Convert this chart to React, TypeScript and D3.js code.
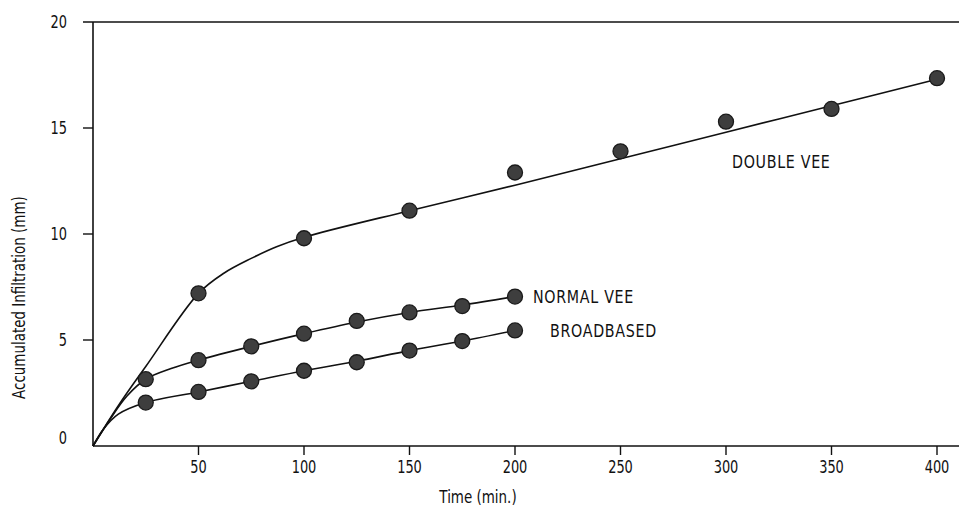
import React, { useEffect, useRef } from 'react';
import * as d3 from 'd3';

// measured points
const shortTimes = [25, 50, 75, 100, 125, 150, 175, 200];
const doubleVeeTimes = [50, 100, 150, 200, 250, 300, 350, 400];
const doubleVeeValues = [7.2, 9.8, 11.1, 12.9, 13.9, 15.3, 15.9, 17.35];
const normalVeeValues = [3.15, 4.05, 4.7, 5.3, 5.9, 6.3, 6.6, 7.05];
const broadbasedValues = [2.05, 2.55, 3.05, 3.55, 3.95, 4.5, 4.95, 5.45];

// hand fitted curves (knots)
const doubleVeeFitTimes = [0, 12, 25, 50, 62, 75, 87, 100, 150, 200, 250, 300, 350, 400];
const doubleVeeFitValues = [0, 1.9, 3.75, 7.2, 8.15, 8.85, 9.4, 9.85, 11.1, 12.3, 13.55, 14.8, 16.05, 17.3];
const normalVeeFitTimes = [0, 8, 16, 25, 37, 50, 75, 100, 125, 150, 175, 200];
const normalVeeFitValues = [0, 1.25, 2.35, 3.15, 3.65, 4.05, 4.7, 5.3, 5.85, 6.3, 6.65, 7.05];
const broadbasedFitTimes = [0, 5, 12, 25, 50, 75, 100, 125, 150, 175, 200];
const broadbasedFitValues = [0, 0.8, 1.5, 2.05, 2.55, 3.05, 3.55, 4.0, 4.5, 4.95, 5.45];

const xTicks = [50, 100, 150, 200, 250, 300, 350, 400];
const yTicks = [0, 5, 10, 15, 20];

const FONT = '"Liberation Sans Narrow", "DejaVu Sans Condensed", "Liberation Sans", sans-serif';

const App = () => {
  const chartRef = useRef(null);

  useEffect(() => {
    const width = 959;
    const svg = d3.select(chartRef.current);
    svg.selectAll('*').remove();

    const x = d3.scaleLinear().domain([0, 400]).range([93, 937]);
    const y = d3.scaleLinear().domain([0, 20]).range([446, 22]);

    // narrow text: the original lettering is a tall condensed face
    const addText = (px, py, str, size, anchor, sx, extra = '') => {
      const g = svg.append('g').attr('transform', `translate(${px},${py}) ${extra} scale(${sx},1)`);
      return g.append('text')
        .attr('dy', '0.35em')
        .attr('text-anchor', anchor)
        .style('font-family', FONT)
        .style('font-size', `${size}px`)
        .style('fill', '#111')
        .text(str);
    };

    // frame: top line, y axis, x axis
    svg.append('line')
      .attr('x1', 83).attr('x2', width)
      .attr('y1', y(20)).attr('y2', y(20))
      .attr('stroke', '#111').attr('stroke-width', 1.6);
    svg.append('line')
      .attr('x1', x(0)).attr('x2', x(0))
      .attr('y1', y(20)).attr('y2', y(0))
      .attr('stroke', '#111').attr('stroke-width', 1.6);
    svg.append('line')
      .attr('x1', x(0)).attr('x2', width)
      .attr('y1', y(0)).attr('y2', y(0))
      .attr('stroke', '#111').attr('stroke-width', 1.6);

    // y ticks
    svg.selectAll('.ytick')
      .data(yTicks.filter(d => d > 0 && d < 20))
      .enter()
      .append('line')
      .attr('x1', x(0) - 10).attr('x2', x(0))
      .attr('y1', d => y(d)).attr('y2', d => y(d))
      .attr('stroke', '#111').attr('stroke-width', 1.4);

    yTicks.forEach(d => {
      addText(67, y(d) - (d === 0 ? 8 : 0), String(d), 18, 'end', 0.8);
    });

    // x ticks
    svg.selectAll('.xtick')
      .data(xTicks)
      .enter()
      .append('line')
      .attr('x1', d => x(d)).attr('x2', d => x(d))
      .attr('y1', y(0)).attr('y2', y(0) + 9)
      .attr('stroke', '#111').attr('stroke-width', 1.4);

    xTicks.forEach(d => {
      addText(x(d), y(0) + 21, String(d), 18, 'middle', 0.8);
    });

    // axis titles
    addText(478, 497, 'Time (min.)', 17, 'middle', 0.88);
    addText(19, y(7), 'Accumulated Infiltration (mm)', 17, 'middle', 0.88, 'rotate(-90)');

    // fitted curves
    const line = d3.line()
      .x(d => x(d[0]))
      .y(d => y(d[1]))
      .curve(d3.curveCatmullRom.alpha(0.5));

    const fits = [
      d3.zip(doubleVeeFitTimes, doubleVeeFitValues),
      d3.zip(normalVeeFitTimes, normalVeeFitValues),
      d3.zip(broadbasedFitTimes, broadbasedFitValues),
    ];
    fits.forEach(series => {
      svg.append('path')
        .datum(series)
        .attr('d', line)
        .style('fill', 'none')
        .style('stroke', '#111')
        .style('stroke-width', 1.6);
    });

    // points
    const points = [
      d3.zip(doubleVeeTimes, doubleVeeValues),
      d3.zip(shortTimes, normalVeeValues),
      d3.zip(shortTimes, broadbasedValues),
    ];
    points.forEach(series => {
      svg.append('g')
        .selectAll('circle')
        .data(series)
        .enter()
        .append('circle')
        .attr('cx', d => x(d[0]))
        .attr('cy', d => y(d[1]))
        .attr('r', 7.5)
        .style('fill', '#3e3e3e')
        .style('stroke', '#1a1a1a')
        .style('stroke-width', 1.3);
    });

    // series labels
    addText(x(300) + 6, y(13.4), 'DOUBLE VEE', 18, 'start', 0.88).style('letter-spacing', '0.8px');
    addText(x(200) + 18, y(7.05), 'NORMAL VEE', 18, 'start', 0.88).style('letter-spacing', '0.8px');
    addText(x(200) + 35, y(5.45), 'BROADBASED', 18, 'start', 0.88).style('letter-spacing', '0.8px');
  }, []);

  return (
    <svg
      ref={chartRef}
      width={959}
      height={513}
      style={{ position: 'absolute', left: 0, top: 0, background: '#fff' }}
    />
  );
};

export default App;
